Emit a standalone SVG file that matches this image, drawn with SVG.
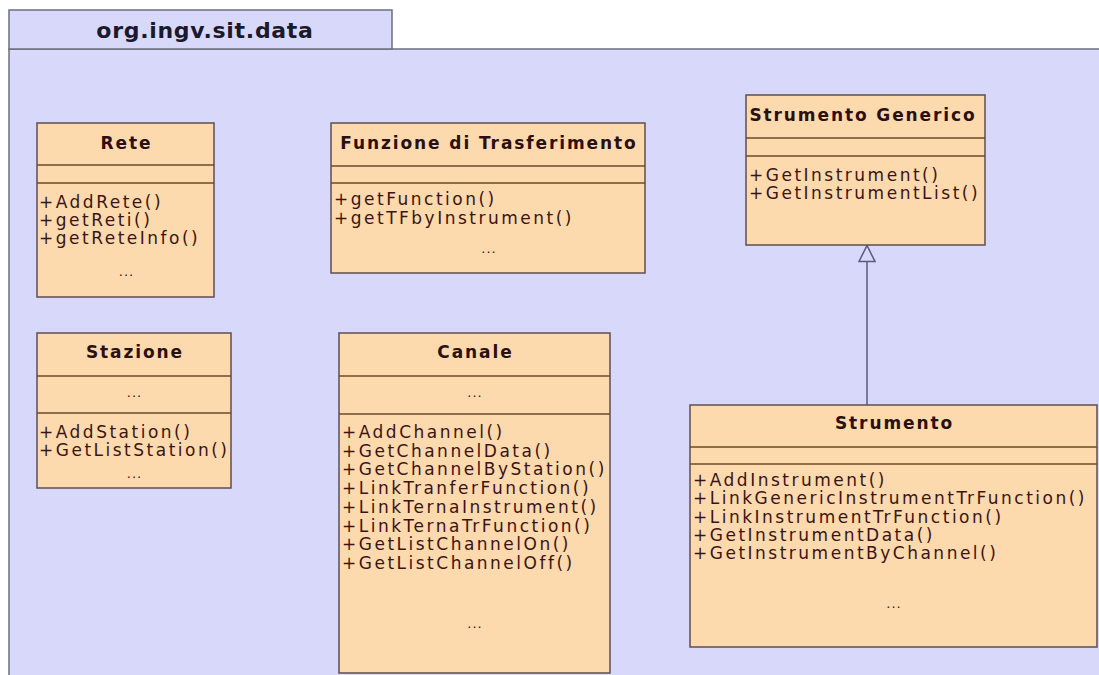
<svg xmlns="http://www.w3.org/2000/svg" width="1099" height="675" viewBox="0 0 1099 675">
<style>
.pkg{fill:#d8d8fb;stroke:#6e6e80;stroke-width:1.5}
.box{fill:#fdd9ae;stroke:#5e4e50;stroke-width:1.5}
.sep{stroke:#6a4a2a;stroke-width:1.5}
.ttl{font-family:"DejaVu Sans",sans-serif;font-weight:bold;font-size:17px;fill:#2a1010;text-anchor:middle;letter-spacing:1.9px}
.m{font-family:"DejaVu Sans",sans-serif;font-size:17px;fill:#3a1414;letter-spacing:2.5px}
.dots{font-family:"DejaVu Sans",sans-serif;font-size:13px;fill:#3a1414;text-anchor:middle;letter-spacing:1px}
.ptl{font-family:"DejaVu Sans",sans-serif;font-weight:bold;font-size:22px;fill:#1a1a2a;text-anchor:middle;letter-spacing:0.7px}
.edge{stroke:#5a5a80;stroke-width:1.5;fill:none}
</style>
<defs>
<marker id="gen" markerWidth="20" markerHeight="18" refX="17" refY="9" orient="auto" markerUnits="userSpaceOnUse">
<path d="M1,1 L17,9 L1,17 Z" fill="#d8d8fb" stroke="#5a5a80" stroke-width="1.5"/>
</marker>
</defs>
<rect width="1099" height="675" fill="#ffffff"/>
<g id="package">
<rect class="pkg" x="9" y="49" width="1100" height="640"/>
<rect class="pkg" x="9" y="10" width="383" height="39"/>
<text class="ptl" x="205" y="38">org.ingv.sit.data</text>
</g>
<g id="connectors">
<line class="edge" x1="867" y1="405" x2="867" y2="245.5" marker-end="url(#gen)"/>
</g>
<g id="rete">
<rect class="box" x="37" y="123" width="177" height="174"/>
<line class="sep" x1="37" y1="165" x2="214" y2="165"/>
<line class="sep" x1="37" y1="183" x2="214" y2="183"/>
<text class="ttl" x="126.5" y="149">Rete</text>
<text class="m" x="39" y="208">+AddRete()</text>
<text class="m" x="39" y="226">+getReti()</text>
<text class="m" x="39" y="244">+getReteInfo()</text>
<text class="dots" x="126.5" y="276">...</text>
</g>
<g id="funzione">
<rect class="box" x="331" y="123" width="314" height="150"/>
<line class="sep" x1="331" y1="166" x2="645" y2="166"/>
<line class="sep" x1="331" y1="183" x2="645" y2="183"/>
<text class="ttl" x="489" y="149">Funzione di Trasferimento</text>
<text class="m" x="334" y="205">+getFunction()</text>
<text class="m" x="334" y="224">+getTFbyInstrument()</text>
<text class="dots" x="489" y="253">...</text>
</g>
<g id="strumento-generico">
<rect class="box" x="746" y="95" width="239" height="150"/>
<line class="sep" x1="746" y1="138" x2="985" y2="138"/>
<line class="sep" x1="746" y1="156" x2="985" y2="156"/>
<text class="ttl" x="863" y="121">Strumento Generico</text>
<text class="m" x="749" y="181">+GetInstrument()</text>
<text class="m" x="749" y="199">+GetInstrumentList()</text>
</g>
<g id="stazione">
<rect class="box" x="37" y="333" width="194" height="155"/>
<line class="sep" x1="37" y1="376" x2="231" y2="376"/>
<line class="sep" x1="37" y1="413" x2="231" y2="413"/>
<text class="ttl" x="135" y="358">Stazione</text>
<text class="dots" x="134.5" y="397">...</text>
<text class="m" x="39" y="438">+AddStation()</text>
<text class="m" x="39" y="456">+GetListStation()</text>
<text class="dots" x="134.5" y="478">...</text>
</g>
<g id="canale">
<rect class="box" x="339" y="333" width="271" height="340"/>
<line class="sep" x1="339" y1="376" x2="610" y2="376"/>
<line class="sep" x1="339" y1="414" x2="610" y2="414"/>
<text class="ttl" x="475.5" y="358">Canale</text>
<text class="dots" x="475" y="397">...</text>
<text class="m" x="342" y="438">+AddChannel()</text>
<text class="m" x="342" y="457">+GetChannelData()</text>
<text class="m" x="342" y="475">+GetChannelByStation()</text>
<text class="m" x="342" y="494">+LinkTranferFunction()</text>
<text class="m" x="342" y="513">+LinkTernaInstrument()</text>
<text class="m" x="342" y="532">+LinkTernaTrFunction()</text>
<text class="m" x="342" y="550">+GetListChannelOn()</text>
<text class="m" x="342" y="569">+GetListChannelOff()</text>
<text class="dots" x="475" y="628">...</text>
</g>
<g id="strumento">
<rect class="box" x="690" y="405" width="407" height="242"/>
<line class="sep" x1="690" y1="447" x2="1097" y2="447"/>
<line class="sep" x1="690" y1="464" x2="1097" y2="464"/>
<text class="ttl" x="894.5" y="429">Strumento</text>
<text class="m" x="693" y="486">+AddInstrument()</text>
<text class="m" x="693" y="504">+LinkGenericInstrumentTrFunction()</text>
<text class="m" x="693" y="523">+LinkInstrumentTrFunction()</text>
<text class="m" x="693" y="541">+GetInstrumentData()</text>
<text class="m" x="693" y="559">+GetInstrumentByChannel()</text>
<text class="dots" x="894" y="608">...</text>
</g>
</svg>
